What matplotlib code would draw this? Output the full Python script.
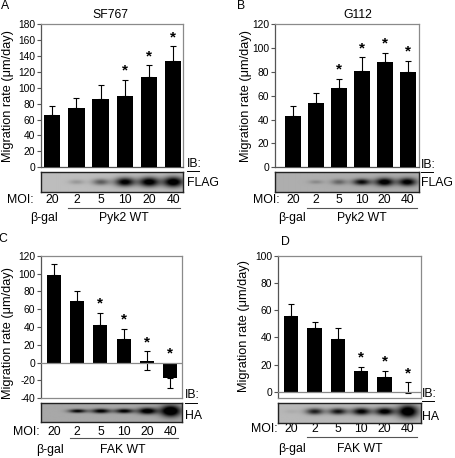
import numpy as np
import matplotlib
matplotlib.use("Agg")
import matplotlib.pyplot as plt
from matplotlib.lines import Line2D
from matplotlib.transforms import blended_transform_factory

plt.rcParams["font.family"] = ["Liberation Sans", "DejaVu Sans"]
plt.rcParams["axes.unicode_minus"] = False

W, H = 455, 458

moi = ["20", "2", "5", "10", "20", "40"]

# panel A  SF767 / Pyk2
a_mean = [66, 75, 86, 90, 114, 134]
a_err = [11, 12, 18, 20, 14, 18]
a_star = [3, 4, 5]
a_band = [0.0, 0.15, 0.4, 0.85, 0.9, 0.95]
a_thick = [0.1, 0.12, 0.16, 0.22, 0.24, 0.26]

# panel B  G112 / Pyk2
b_mean = [43, 54, 66, 81, 88, 80]
b_err = [8, 8, 8, 11, 8, 9]
b_star = [2, 3, 4, 5]
b_band = [0.0, 0.15, 0.3, 0.7, 0.85, 0.8]
b_thick = [0.1, 0.1, 0.14, 0.16, 0.2, 0.2]

# panel C  SF767 / FAK
c_mean = [98, 69, 42, 27, 2, -17]
c_err_lo = [0, 0, 0, 0, 10, 11]
c_err_hi = [13, 11, 14, 11, 11, 0]
c_star = [2, 3, 4, 5]
c_band = [0.0, 0.7, 0.75, 0.75, 0.85, 1.0]
c_thick = [0.1, 0.1, 0.12, 0.12, 0.17, 0.3]

# panel D  G112 / FAK
d_mean = [56, 47, 39, 15, 11, -0.6]
d_err_hi = [8.5, 4, 7.5, 3.5, 4.5, 7.5]
d_star = [3, 4, 5]
d_band = [0.05, 0.65, 0.7, 0.8, 0.85, 1.0]
d_thick = [0.1, 0.15, 0.15, 0.17, 0.18, 0.3]

fig = plt.figure(figsize=(W / 100, H / 100), dpi=100)


def rect(x0, y0, x1, y1):
    return [x0 / W, 1 - y1 / H, (x1 - x0) / W, (y1 - y0) / H]


def fx(x):
    return x / W


def fy(y):
    return 1 - y / H


def panel(box, xlim, ylim, yticks, mean, lo, hi, stars, width, zero_line):
    ax = fig.add_axes(rect(*box))
    x = np.arange(len(mean))
    ax.bar(x, mean, width=width, color="black", zorder=3)
    ax.errorbar(x, mean, yerr=[lo, hi], fmt="none", ecolor="black",
                elinewidth=0.8, capsize=2.2, capthick=0.8, zorder=2)
    for i in stars:
        top = max(mean[i] + hi[i], 0)
        ax.annotate("*", (x[i], top), xytext=(0, 1.5), textcoords="offset points",
                    ha="center", va="bottom", fontsize=11, fontweight="bold")
    ax.set_xlim(*xlim)
    ax.set_ylim(*ylim)
    ax.set_yticks(yticks)
    ax.set_yticklabels([str(t) for t in yticks])
    ax.set_xticks([])
    ax.tick_params(axis="y", length=3, width=0.8, pad=1, labelsize=7.4, color="#555555")
    for s in ["top", "right"]:
        ax.spines[s].set_color("#8a8a8a")
    ax.spines["left"].set_color("#555555")
    ax.spines["bottom"].set_color("#555555" if not zero_line else "#8a8a8a")
    for s in ax.spines.values():
        s.set_linewidth(0.9)
    if zero_line:
        ax.axhline(0, color="#8a8a8a", lw=0.9, zorder=4)
    return ax


def blot(box, xlim, band, thick, bg, yc):
    bx = fig.add_axes(rect(*box))
    xs = np.linspace(xlim[0], xlim[1], 300)
    ys = np.linspace(0, 1, 40)
    X, Y = np.meshgrid(xs, ys)
    img = np.full_like(X, bg)
    for k, (b, t) in enumerate(zip(band, thick)):
        sx = 0.3 + 0.12 * b
        img -= b * 0.95 * np.exp(-((X - k) / sx) ** 2 - ((Y - yc) / t) ** 2)
    img = np.clip(img, 0, 1)
    bx.imshow(img, cmap="gray", vmin=0, vmax=1, aspect="auto",
              extent=(xlim[0], xlim[1], 0, 1), origin="lower")
    bx.set_xlim(*xlim)
    bx.set_xticks([])
    bx.set_yticks([])
    for s in bx.spines.values():
        s.set_linewidth(1.0)
        s.set_color("#222222")
    return bx


def labels(ax, moi_y, moi_right, line_y, line_x, grp_y, gal_x, grp_x, grp_name,
           ib_x, ib_y, ib_line_y, ab_y, ab_name):
    tr = blended_transform_factory(ax.transData, fig.transFigure)
    fs = 8.8
    fig.text(fx(moi_right), fy(moi_y), "MOI:", ha="right", va="center", fontsize=fs)
    for i, m in enumerate(moi):
        ax.text(i, fy(moi_y), m, transform=tr, ha="center", va="center", fontsize=fs)
    fig.add_artist(Line2D([fx(line_x[0]), fx(line_x[1])], [fy(line_y), fy(line_y)],
                          color="#555555", lw=0.8))
    fig.text(fx(gal_x), fy(grp_y), "β-gal", ha="center", va="center", fontsize=fs)
    fig.text(fx(grp_x), fy(grp_y), grp_name, ha="center", va="center", fontsize=fs)
    fig.text(fx(ib_x), fy(ib_y), "IB:", ha="left", va="center", fontsize=fs)
    fig.add_artist(Line2D([fx(ib_x), fx(ib_x + 12)], [fy(ib_line_y), fy(ib_line_y)],
                          color="black", lw=0.7))
    fig.text(fx(ib_x), fy(ab_y), ab_name, ha="left", va="center", fontsize=fs)


ylab = "Migration rate (μm/day)"
yfs = 9.2

# A
xa = (-0.47, 5.39)
axA = panel((40.7, 24, 182.7, 167.3), xa, (0, 180), list(range(0, 181, 20)),
            a_mean, [0] * 6, a_err, a_star, 0.68, False)
blot((40.7, 171.7, 182.7, 191.7), xa, a_band, a_thick, 0.74, 0.5)
labels(axA, 200, 34, 208, (68, 180), 218, 44, 124, "Pyk2 WT",
       187, 164, 170.5, 183, "FLAG")
fig.text(fx(110), fy(15.5), "SF767", ha="center", va="center", fontsize=8.8)
fig.text(fx(5), fy(6), "A", ha="center", va="center", fontsize=8.8)
fig.text(fx(8), fy(95.5), ylab, rotation=90, ha="center", va="center", fontsize=yfs)

# B
xb = (-0.79, 5.5)
axB = panel((275, 24, 419, 167.3), xb, (0, 120), list(range(0, 121, 20)),
            b_mean, [0] * 6, b_err, b_star, 0.7, False)
blot((275, 171.7, 419, 191.7), xb, b_band, b_thick, 0.68, 0.5)
labels(axB, 200, 280, 208, (307, 417), 218, 291.7, 361.5, "Pyk2 WT",
       421, 165, 171.5, 183, "FLAG")
fig.text(fx(358), fy(15.5), "G112", ha="center", va="center", fontsize=8.8)
fig.text(fx(241), fy(6), "B", ha="center", va="center", fontsize=8.8)
fig.text(fx(246.5), fy(95.5), ylab, rotation=90, ha="center", va="center", fontsize=yfs)

# C
xc = (-0.57, 5.52)
axC = panel((40.7, 255.7, 182.3, 398.3), xc, (-40, 120), list(range(-40, 121, 20)),
            c_mean, c_err_lo, c_err_hi, c_star, 0.6, True)
blot((40.7, 403, 182.3, 421.7), xc, c_band, c_thick, 0.66, 0.58)
labels(axC, 431.7, 40, 437.7, (70, 178), 450, 50, 123, "FAK WT",
       185, 395, 402.5, 416, "HA")
fig.text(fx(3), fy(239), "C", ha="center", va="center", fontsize=8.8)
fig.text(fx(8), fy(333), ylab, rotation=90, ha="center", va="center", fontsize=yfs)

# D
xd = (-0.57, 5.55)
axD = panel((278, 255.7, 420.7, 398), xd, (-4.6, 100), list(range(0, 101, 20)),
            d_mean, [0] * 6, d_err_hi, d_star, 0.61, True)
blot((278, 402.7, 420.7, 423.3), xd, d_band, d_thick, 0.72, 0.55)
labels(axD, 429, 278, 436.5, (307, 417), 449, 291.7, 360, "FAK WT",
       422, 394, 400.5, 417, "HA")
fig.text(fx(285), fy(242), "D", ha="center", va="center", fontsize=8.8)
fig.text(fx(244), fy(326), ylab, rotation=90, ha="center", va="center", fontsize=yfs)

fig.savefig("out.png", dpi=100)
